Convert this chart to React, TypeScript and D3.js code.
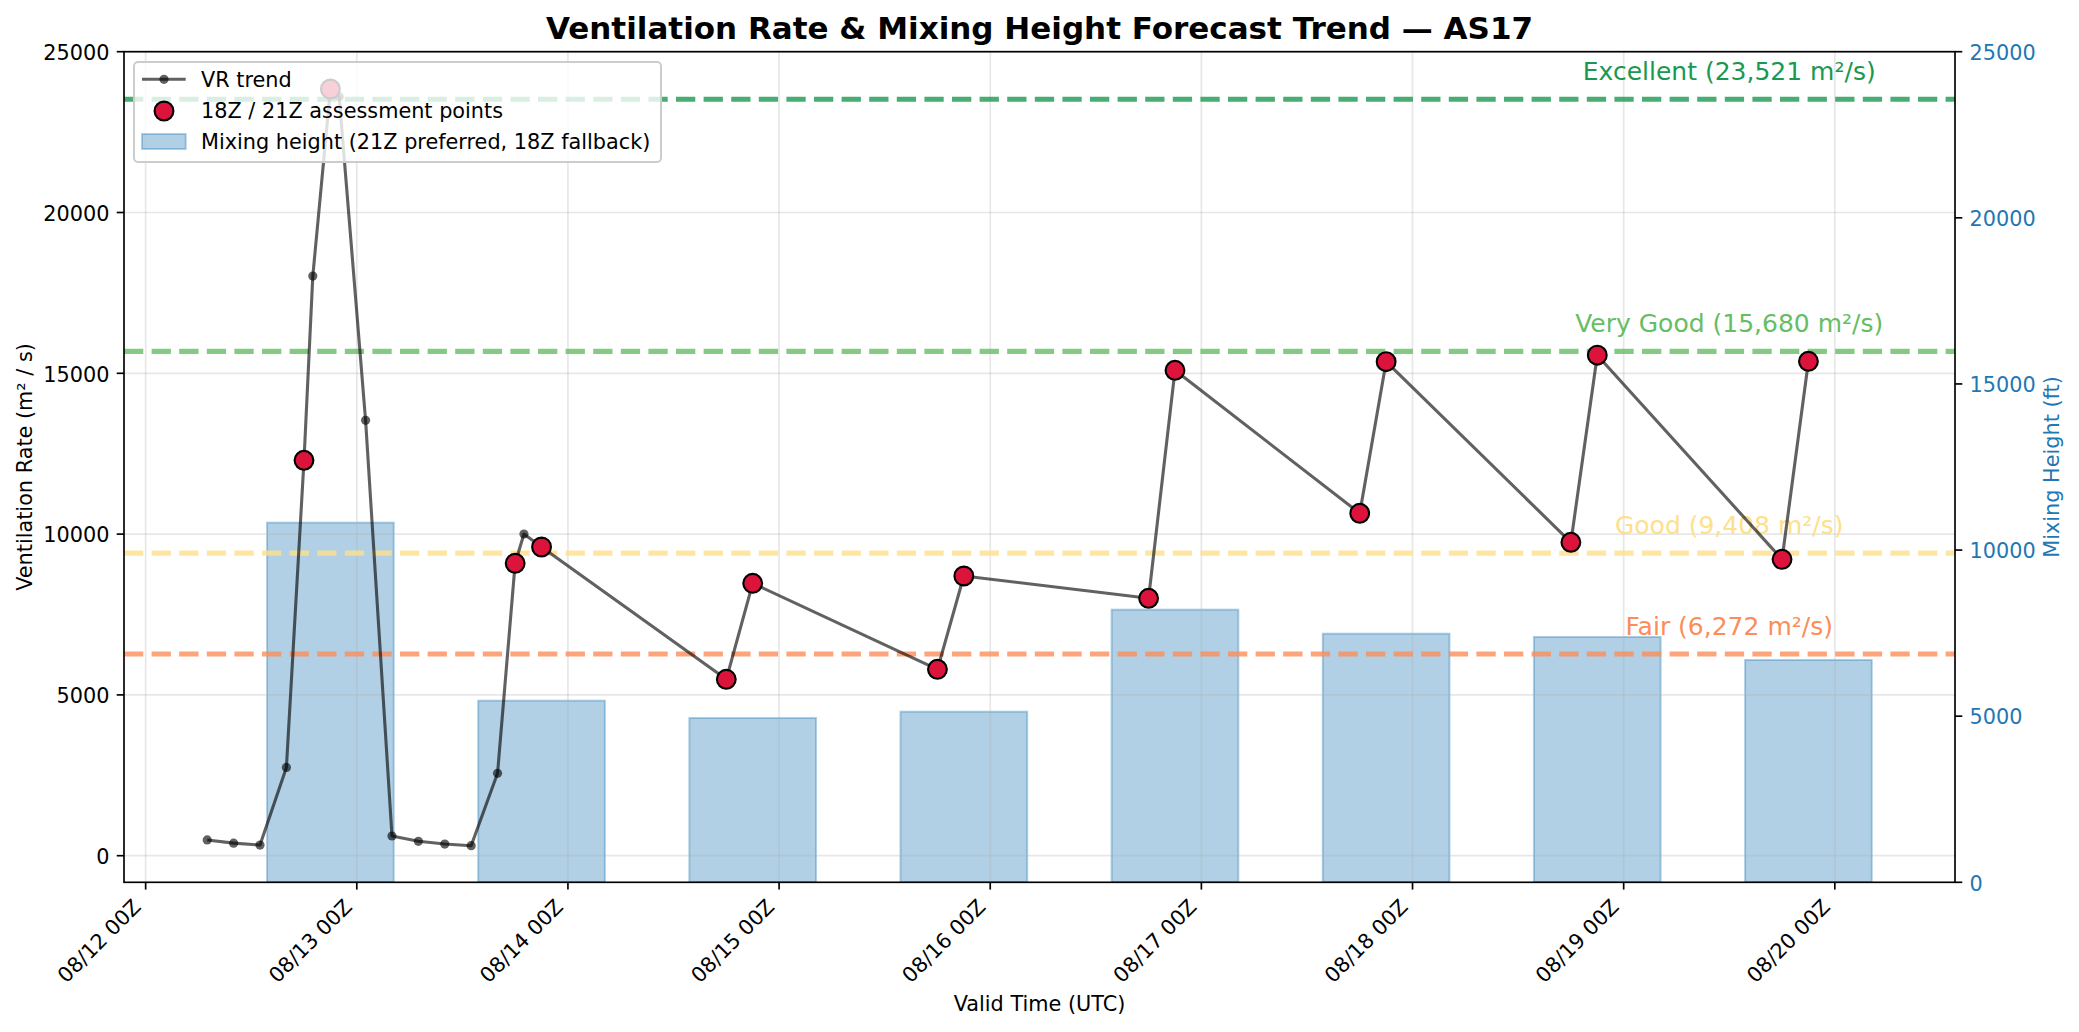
import React, { useEffect } from 'react';
import * as d3 from 'd3';

// ---------- data ----------
const trendTimes = [
  '2025-08-12T07:00Z', '2025-08-12T10:00Z', '2025-08-12T13:00Z', '2025-08-12T16:00Z',
  '2025-08-12T18:00Z', '2025-08-12T19:00Z', '2025-08-12T21:00Z', '2025-08-12T22:00Z',
  '2025-08-13T01:00Z', '2025-08-13T04:00Z', '2025-08-13T07:00Z', '2025-08-13T10:00Z',
  '2025-08-13T13:00Z', '2025-08-13T16:00Z', '2025-08-13T18:00Z', '2025-08-13T19:00Z',
  '2025-08-13T21:00Z',
  '2025-08-14T18:00Z', '2025-08-14T21:00Z',
  '2025-08-15T18:00Z', '2025-08-15T21:00Z',
  '2025-08-16T18:00Z', '2025-08-16T21:00Z',
  '2025-08-17T18:00Z', '2025-08-17T21:00Z',
  '2025-08-18T18:00Z', '2025-08-18T21:00Z',
  '2025-08-19T18:00Z', '2025-08-19T21:00Z',
];
const trendValues = [
  490, 390, 332, 2745,
  12295, 18022, 23840, 23600,
  13538, 613, 447, 363,
  311, 2562, 9092, 10003,
  9599,
  5485, 8470,
  5796, 8697,
  8004, 15093,
  10647, 15361,
  9745, 15563,
  9216, 15373,
];

const assessTimes = [
  '2025-08-12T18:00Z', '2025-08-12T21:00Z',
  '2025-08-13T18:00Z', '2025-08-13T21:00Z',
  '2025-08-14T18:00Z', '2025-08-14T21:00Z',
  '2025-08-15T18:00Z', '2025-08-15T21:00Z',
  '2025-08-16T18:00Z', '2025-08-16T21:00Z',
  '2025-08-17T18:00Z', '2025-08-17T21:00Z',
  '2025-08-18T18:00Z', '2025-08-18T21:00Z',
  '2025-08-19T18:00Z', '2025-08-19T21:00Z',
];
const assessValues = [
  12295, 23840,
  9092, 9599,
  5485, 8470,
  5796, 8697,
  8004, 15093,
  10647, 15361,
  9745, 15563,
  9216, 15373,
];

const barTimes = [
  '2025-08-12T21:00Z', '2025-08-13T21:00Z', '2025-08-14T21:00Z', '2025-08-15T21:00Z',
  '2025-08-16T21:00Z', '2025-08-17T21:00Z', '2025-08-18T21:00Z', '2025-08-19T21:00Z',
];
const mixHeights = [10825, 5467, 4946, 5135, 8206, 7483, 7384, 6692];
const barWidthDays = 0.6;

const thresholdNames = ['Excellent', 'Very Good', 'Good', 'Fair'];
const thresholdValues = [23521, 15680, 9408, 6272];
const thresholdLabelTime = '2025-08-19T12:00Z';

const xTickTimes = [
  '2025-08-12T00:00Z', '2025-08-13T00:00Z', '2025-08-14T00:00Z', '2025-08-15T00:00Z',
  '2025-08-16T00:00Z', '2025-08-17T00:00Z', '2025-08-18T00:00Z', '2025-08-19T00:00Z',
  '2025-08-20T00:00Z',
];
const leftTicks = [0, 5000, 10000, 15000, 20000, 25000];
const rightTicks = [0, 5000, 10000, 15000, 20000, 25000];
const leftDomain = [-827, 25000];
const rightDomain = [0, 25000];

const titleText = 'Ventilation Rate & Mixing Height Forecast Trend — AS17';
const xLabelText = 'Valid Time (UTC)';
const yLabelText = 'Ventilation Rate (m² / s)';
const y2LabelText = 'Mixing Height (ft)';
const legendLabels = ['VR trend', '18Z / 21Z assessment points', 'Mixing height (21Z preferred, 18Z fallback)'];

// ---------- styles ----------
const thresholdColors = ['#1a9850', '#66bd63', '#fee08b', '#fc8d59'];
const BLUE = '#1f77b4';
const CRIMSON = '#dc143c';
const FONT = '"DejaVu Sans", sans-serif';

export default function App() {
  useEffect(() => {
    document.body.style.margin = '0';
  }, []);

  const W = 2079;
  const H = 1032;
  const L = 124, R = 1955, T = 51.7, B = 882.3;

  const parse = (s: string) => new Date(s);
  const tT = trendTimes.map(parse);
  const aT = assessTimes.map(parse);
  const bT = barTimes.map(parse);
  const DAY = 86400000;
  const halfBar = (barWidthDays / 2) * DAY;

  const lo = Math.min(d3.min(tT, (d) => +d)!, d3.min(bT, (d) => +d - halfBar)!);
  const hi = Math.max(d3.max(tT, (d) => +d)!, d3.max(bT, (d) => +d + halfBar)!);
  const pad = (hi - lo) * 0.05;

  const x = d3.scaleUtc().domain([new Date(lo - pad), new Date(hi + pad)]).range([L, R]);
  const yL = d3.scaleLinear().domain(leftDomain).range([B, T]);
  const yR = d3.scaleLinear().domain(rightDomain).range([B, T]);

  const fmtTick = d3.utcFormat('%m/%d %HZ');
  const fmtNum = d3.format(',');

  const pts: [Date, number][] = tT.map((d, i) => [d, trendValues[i]]);
  const linePath = d3.line<[Date, number]>().x((d) => x(d[0])).y((d) => yL(d[1]))(pts) || '';

  const tickLen = 7.3;
  const tickW = 1.67;
  const fs = 20.8;

  return (
    <svg
      width={W}
      height={H}
      viewBox={`0 0 ${W} ${H}`}
      style={{ position: 'absolute', left: 0, top: 0, display: 'block', background: '#fff' }}
      fontFamily={FONT}
    >
      <rect x={0} y={0} width={W} height={H} fill="#fff" />
      <defs>
        <clipPath id="plotClip">
          <rect x={L} y={T} width={R - L} height={B - T} />
        </clipPath>
      </defs>

      {/* bars (secondary axis, drawn beneath) */}
      <g clipPath="url(#plotClip)">
        {bT.map((d, i) => {
          const x0 = x(new Date(+d - halfBar));
          const x1 = x(new Date(+d + halfBar));
          const y0 = yR(mixHeights[i]);
          return (
            <rect
              key={i}
              x={x0}
              y={y0}
              width={x1 - x0}
              height={yR(0) - y0}
              fill={BLUE}
              fillOpacity={0.35}
              stroke={BLUE}
              strokeOpacity={0.35}
              strokeWidth={2}
            />
          );
        })}
      </g>

      {/* grid */}
      <g stroke="#b0b0b0" strokeOpacity={0.3} strokeWidth={1.67}>
        {xTickTimes.map((t, i) => {
          const xx = x(parse(t));
          return <line key={'gx' + i} x1={xx} x2={xx} y1={T} y2={B} />;
        })}
        {leftTicks.map((v, i) => (
          <line key={'gy' + i} x1={L} x2={R} y1={yL(v)} y2={yL(v)} />
        ))}
      </g>

      {/* threshold lines + labels */}
      <g clipPath="url(#plotClip)">
        {thresholdValues.map((v, i) => (
          <line
            key={'th' + i}
            x1={L}
            x2={R}
            y1={yL(v)}
            y2={yL(v)}
            stroke={thresholdColors[i]}
            strokeOpacity={0.8}
            strokeWidth={5.2}
            strokeDasharray="19.3 8.3"
          />
        ))}
      </g>
      {thresholdValues.map((v, i) => (
        <text
          key={'tl' + i}
          x={x(parse(thresholdLabelTime))}
          y={yL(v) - 19}
          fill={thresholdColors[i]}
          fontSize={25}
          textAnchor="middle"
        >
          {`${thresholdNames[i]} (${fmtNum(v)} m²/s)`}
        </text>
      ))}

      {/* trend line */}
      <g clipPath="url(#plotClip)">
        <path d={linePath} fill="none" stroke="#000" strokeOpacity={0.62} strokeWidth={3.1} strokeLinejoin="round" />
        {pts.map((p, i) => (
          <circle key={'tp' + i} cx={x(p[0])} cy={yL(p[1])} r={4.6} fill="#000" fillOpacity={0.62} />
        ))}
        {aT.map((d, i) => (
          <circle
            key={'ap' + i}
            cx={x(d)}
            cy={yL(assessValues[i])}
            r={9.4}
            fill={CRIMSON}
            stroke="#000"
            strokeWidth={2.1}
          />
        ))}
      </g>

      {/* spines */}
      <rect x={L} y={T} width={R - L} height={B - T} fill="none" stroke="#000" strokeWidth={1.67} />

      {/* x axis */}
      {xTickTimes.map((t, i) => {
        const xx = x(parse(t));
        const ax = xx - 3.5;
        const ay = B + tickLen + 7.3 + 11.2;
        return (
          <g key={'xt' + i}>
            <line x1={xx} x2={xx} y1={B} y2={B + tickLen} stroke="#000" strokeWidth={tickW} />
            <text
              x={ax}
              y={ay}
              fontSize={fs}
              textAnchor="end"
              transform={`rotate(-45 ${ax} ${ay})`}
              fill="#000"
            >
              {fmtTick(parse(t))}
            </text>
          </g>
        );
      })}

      {/* left y axis */}
      {leftTicks.map((v, i) => (
        <g key={'yl' + i}>
          <line x1={L - tickLen} x2={L} y1={yL(v)} y2={yL(v)} stroke="#000" strokeWidth={tickW} />
          <text x={L - tickLen - 7.3} y={yL(v) + 8.3} fontSize={fs} textAnchor="end" fill="#000">
            {String(v)}
          </text>
        </g>
      ))}

      {/* right y axis */}
      {rightTicks.map((v, i) => (
        <g key={'yr' + i}>
          <line x1={R} x2={R + tickLen} y1={yR(v)} y2={yR(v)} stroke="#000" strokeWidth={tickW} />
          <text x={R + tickLen + 7.3} y={yR(v) + 8.3} fontSize={fs} textAnchor="start" fill={BLUE}>
            {String(v)}
          </text>
        </g>
      ))}

      {/* axis labels */}
      <text x={(L + R) / 2} y={1011} fontSize={fs} textAnchor="middle" fill="#000">
        {xLabelText}
      </text>
      <text
        x={32}
        y={(T + B) / 2}
        fontSize={fs}
        textAnchor="middle"
        fill="#000"
        transform={`rotate(-90 32 ${(T + B) / 2})`}
      >
        {yLabelText}
      </text>
      <text
        x={2059}
        y={(T + B) / 2}
        fontSize={fs}
        textAnchor="middle"
        fill={BLUE}
        transform={`rotate(-90 2059 ${(T + B) / 2})`}
      >
        {y2LabelText}
      </text>

      {/* title */}
      <text x={(L + R) / 2} y={39} fontSize={31} fontWeight="bold" textAnchor="middle" fill="#000">
        {titleText}
      </text>

      {/* legend */}
      <g>
        <rect x={134} y={62} width={527} height={100} rx={4} ry={4} fill="#fff" fillOpacity={0.8} stroke="#cccccc" strokeWidth={2} />
        <line x1={142} x2={185.7} y1={79.3} y2={79.3} stroke="#000" strokeOpacity={0.62} strokeWidth={3.1} />
        <circle cx={164} cy={79.3} r={4.6} fill="#000" fillOpacity={0.62} />
        <circle cx={164} cy={111} r={9.4} fill={CRIMSON} stroke="#000" strokeWidth={2.1} />
        <rect x={142} y={134} width={43.7} height={15} fill={BLUE} fillOpacity={0.35} stroke={BLUE} strokeOpacity={0.35} strokeWidth={2} />
        {legendLabels.map((s, i) => (
          <text key={'lg' + i} x={201} y={[86.6, 118.3, 149][i]} fontSize={fs} fill="#000">
            {s}
          </text>
        ))}
      </g>
    </svg>
  );
}
